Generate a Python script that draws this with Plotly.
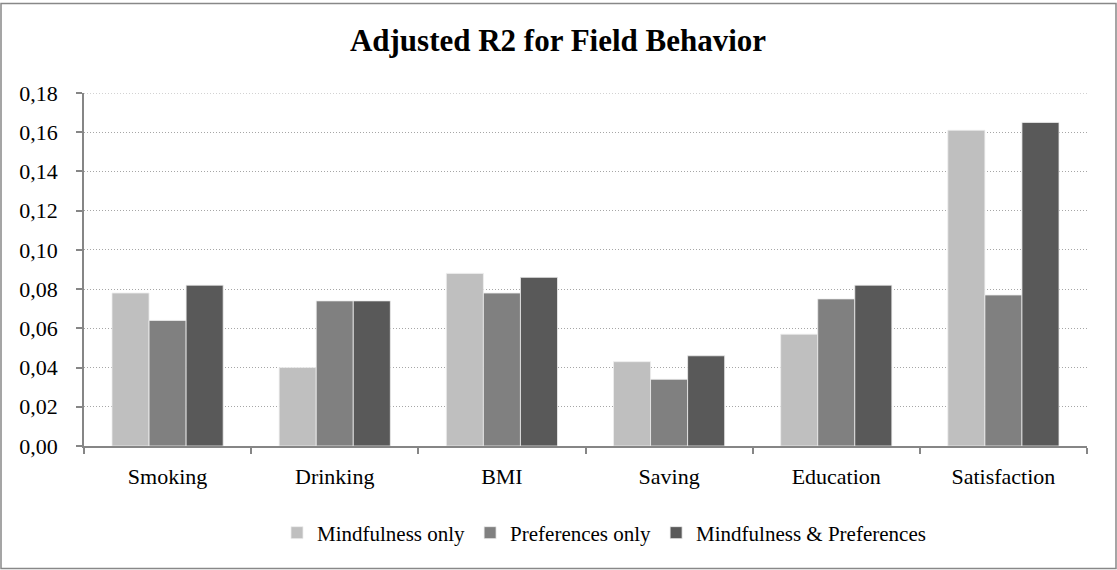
import plotly.graph_objects as go

categories = ["Smoking", "Drinking", "BMI", "Saving", "Education", "Satisfaction"]
mindfulness_only = [0.078, 0.040, 0.088, 0.043, 0.057, 0.161]
preferences_only = [0.064, 0.074, 0.078, 0.034, 0.075, 0.077]
mindfulness_pref = [0.082, 0.074, 0.086, 0.046, 0.082, 0.165]
series_names = ["Mindfulness only", "Preferences only", "Mindfulness & Preferences"]
series_colors = ["#BFBFBF", "#808080", "#595959"]
y_ticks = [0, 0.02, 0.04, 0.06, 0.08, 0.10, 0.12, 0.14, 0.16, 0.18]

FONT = "Liberation Serif"
W, H = 1117, 570
L, R, T, B = 84, 30, 93, 124
PW, PH = W - L - R, H - T - B
GRID = "#A6A6A6"
GRID_DASH = "1px,2px"

fig = go.Figure()
for name, vals, col in zip(series_names, [mindfulness_only, preferences_only, mindfulness_pref], series_colors):
    fig.add_trace(go.Bar(
        x=categories, y=vals, name=name,
        marker=dict(color=col, line=dict(color="#EEEEEE", width=0.8)),
    ))

fig.update_layout(
    width=W, height=H,
    paper_bgcolor="white", plot_bgcolor="white",
    separators=",.",
    font=dict(family=FONT, size=22, color="#000000"),
    title=dict(text="<b>Adjusted R2 for Field Behavior</b>", x=(558 - L) / PW, xref="paper", xanchor="center",
               y=1 - 40 / H, yref="container", yanchor="middle",
               font=dict(family=FONT, size=31, color="#000000")),
    margin=dict(l=L, r=R, t=T, b=B),
    barmode="group", bargap=0.335, bargroupgap=0,
    showlegend=True,
    legend=dict(orientation="h", x=(604 - L) / PW, xanchor="center", y=-(533 - (H - B)) / PH, yanchor="middle",
                font=dict(family=FONT, size=21), itemwidth=30, traceorder="normal"),
    xaxis=dict(
        showline=True, linecolor="#868686", linewidth=1.5,
        ticks="outside", tickson="boundaries", ticklen=6, tickcolor="#868686", tickwidth=1.5,
        showgrid=False, tickfont=dict(family=FONT, size=22), ticklabelstandoff=10,
    ),
    yaxis=dict(
        range=[0, y_ticks[-1]], tickvals=y_ticks, tickformat=".2f",
        showline=True, linecolor="#868686", linewidth=1.5,
        ticks="outside", ticklen=6, tickcolor="#868686", tickwidth=1.5,
        showgrid=True, gridcolor=GRID, griddash=GRID_DASH, gridwidth=1,
        zeroline=False, tickfont=dict(family=FONT, size=22), ticklabelstandoff=14,
    ),
)

# top gridline (plotly omits the one on the plot edge)
fig.add_shape(type="line", xref="paper", yref="y", x0=0, x1=1, y0=y_ticks[-1], y1=y_ticks[-1],
              line=dict(color=GRID, width=1, dash=GRID_DASH), layer="below")

# outer chart frame
fig.add_shape(type="rect", xref="paper", yref="paper",
              x0=(1 - L) / PW, x1=(1116 - L) / PW,
              y0=-(568.5 - (H - B)) / PH, y1=(H - B - 3.5) / PH,
              line=dict(color="#888888", width=1.5), fillcolor="rgba(0,0,0,0)", layer="below")

fig.write_html("out.html", config={"displayModeBar": False},
               post_script="document.body.style.margin='0px';document.body.style.overflow='hidden';")
